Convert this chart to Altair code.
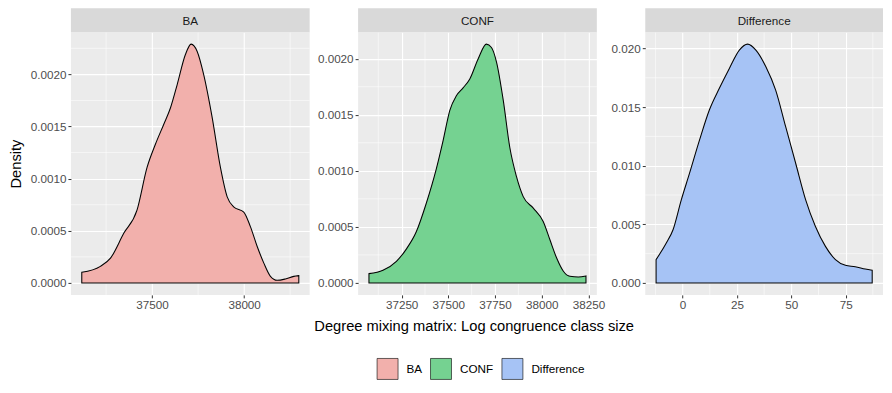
import altair as alt
import pandas as pd

groups = ["BA", "CONF", "Difference"]
fill_colors = ["#F2B0AC", "#75D291", "#A6C3F5"]

ba_x = [37118, 37219, 37274, 37346, 37418, 37473, 37518, 37563, 37600, 37636, 37681, 37712, 37745,
        37780, 37826, 37871, 37908, 37943, 37998, 38034, 38071, 38107, 38143, 38179, 38224, 38270, 38297]
ba_y = [0.000102, 0.000159, 0.000238, 0.000476, 0.000698, 0.00111, 0.00133, 0.00152, 0.00168, 0.0019,
        0.00219, 0.00229, 0.00222, 0.0020, 0.00159, 0.00111, 0.000825, 0.00073, 0.00068, 0.00054,
        0.00035, 0.00019, 0.000063, 0.000025, 0.000038, 0.000063, 0.00007]

conf_x = [37075, 37150, 37222, 37275, 37329, 37382, 37436, 37472, 37508, 37543, 37579, 37615, 37660,
          37704, 37731, 37758, 37794, 37829, 37865, 37901, 37955, 38008, 38044, 38080, 38116, 38151,
          38196, 38237]
conf_y = [0.000083, 0.000113, 0.000193, 0.000302, 0.000459, 0.000711, 0.00102, 0.00127, 0.00154,
          0.00167, 0.00174, 0.00182, 0.0020, 0.00213, 0.0021, 0.00197, 0.00163, 0.00121, 0.000948,
          0.00077, 0.000667, 0.000548, 0.000385, 0.000222, 0.000104, 0.000059, 0.000053, 0.000062]

diff_x = [-12.2, -7.5, -4.4, -0.6, 3.2, 7.8, 12.3, 16.9, 21.5, 26.1, 29.9, 33.7, 38.3, 42.8, 47.4,
          52.0, 56.6, 61.1, 65.7, 70.3, 74.9, 79.4, 84.0, 87.2]
diff_y = [0.00199, 0.0034, 0.00454, 0.00709, 0.00936, 0.0122, 0.01475, 0.0166, 0.0183, 0.01986,
          0.02037, 0.01986, 0.01844, 0.01645, 0.01333, 0.01021, 0.00709, 0.00482, 0.00312, 0.00199,
          0.0015, 0.00139, 0.00119, 0.00108]

ba_x_ticks = [37500, 38000]
ba_x_minor = [37250, 37750, 38250]
conf_x_ticks = [37250, 37500, 37750, 38000, 38250]
conf_x_minor = [37125, 37375, 37625, 37875, 38125]
diff_x_ticks = [0, 25, 50, 75]
diff_x_minor = [-12.5, 12.5, 37.5, 62.5, 87.5]
small_y_ticks = [0, 0.0005, 0.001, 0.0015, 0.002]
ba_y_minor = [0.00025, 0.00075, 0.00125, 0.00175, 0.00225]
conf_y_minor = [0.00025, 0.00075, 0.00125, 0.00175]
diff_y_ticks = [0, 0.005, 0.01, 0.015, 0.02]
diff_y_minor = [0.0025, 0.0075, 0.0125, 0.0175]

FONT = "Liberation Sans"
H = 263
legend = alt.Legend(orient="none", legendX=306, legendY=326, direction="horizontal", title=None,
                    symbolType="square", symbolSize=441, symbolStrokeColor="black",
                    symbolStrokeWidth=0.6, symbolOpacity=1, labelFontSize=11.7, labelColor="black",
                    labelOffset=8, columnPadding=6.5, padding=0, labelFont=FONT)


def panel(name, xs, ys, xt, xm, yt, ym, yfmt, width, y_title="", x_title=""):
    df = pd.DataFrame({"x": xs, "y": ys, "group": name})
    r = max(xs) - min(xs)
    xdom = [min(xs) - 0.05 * r, max(xs) + 0.05 * r]
    peak = max(ys)
    ydom = [-0.05 * peak, 1.05 * peak]
    xs_ = alt.Scale(domain=xdom, nice=False, zero=False)
    ys_ = alt.Scale(domain=ydom, nice=False, zero=False)

    xaxis_kw = dict(values=xt, format="d", grid=True, title=x_title)
    if x_title:
        xaxis_kw.update(titleX=115.7, titleY=35.3, titleBaseline="alphabetic", titleAlign="center")
    yaxis_kw = dict(values=yt, format=yfmt, grid=True, title=y_title)
    if y_title:
        yaxis_kw.update(titleX=-50.2, titleBaseline="alphabetic")
    xaxis = alt.Axis(**xaxis_kw)
    yaxis = alt.Axis(**yaxis_kw)

    xminor = alt.Chart(pd.DataFrame({"x": xm})).mark_rule(color="white", strokeWidth=0.55).encode(
        x=alt.X("x:Q", scale=xs_, axis=xaxis))
    yminor = alt.Chart(pd.DataFrame({"y": ym})).mark_rule(color="white", strokeWidth=0.55).encode(
        y=alt.Y("y:Q", scale=ys_, axis=yaxis))
    area = alt.Chart(df).mark_area(stroke="black", strokeWidth=1.05, interpolate="monotone", opacity=1).encode(
        x=alt.X("x:Q", scale=xs_, axis=xaxis),
        y=alt.Y("y:Q", scale=ys_, axis=yaxis),
        y2=alt.datum(0),
        color=alt.Color("group:N", scale=alt.Scale(domain=groups, range=fill_colors), legend=legend),
    )
    strip_df = pd.DataFrame({"group": [name]})
    strip = alt.Chart(strip_df).mark_rect(color="#D9D9D9").encode(
        x=alt.value(0), x2=alt.value(width), y=alt.value(-24), y2=alt.value(0))
    strip_text = alt.Chart(strip_df).mark_text(font=FONT, fontSize=11.7, color="#1A1A1A", baseline="middle").encode(
        x=alt.value(width / 2), y=alt.value(-11.5), text="group:N")
    return alt.layer(xminor, yminor, area, strip, strip_text).properties(width=width, height=H)


p1 = panel("BA", ba_x, ba_y, ba_x_ticks, ba_x_minor, small_y_ticks, ba_y_minor, ".4f", 239,
           y_title="Density")
p2 = panel("CONF", conf_x, conf_y, conf_x_ticks, conf_x_minor, small_y_ticks, conf_y_minor, ".4f", 239,
           x_title="Degree mixing matrix: Log congruence class size")
p3 = panel("Difference", diff_x, diff_y, diff_x_ticks, diff_x_minor, diff_y_ticks, diff_y_minor, ".3f", 238)

chart = alt.hconcat(p1, p2, p3, spacing=48.5, bounds="flush").properties(padding=0).configure(
    font=FONT
).configure_view(fill="#EBEBEB", stroke=None).configure_axis(
    labelFont=FONT, labelFontSize=11.7, labelColor="#4D4D4D", labelPadding=2,
    tickColor="#333333", tickSize=3, tickWidth=1, domain=False,
    gridColor="white", gridWidth=1.1,
    titleFont=FONT, titleFontSize=14.7, titleColor="black", titleFontWeight="normal",
).configure_legend(labelFont=FONT)

chart.save("out.html", embed_options={"renderer": "svg", "actions": False})
